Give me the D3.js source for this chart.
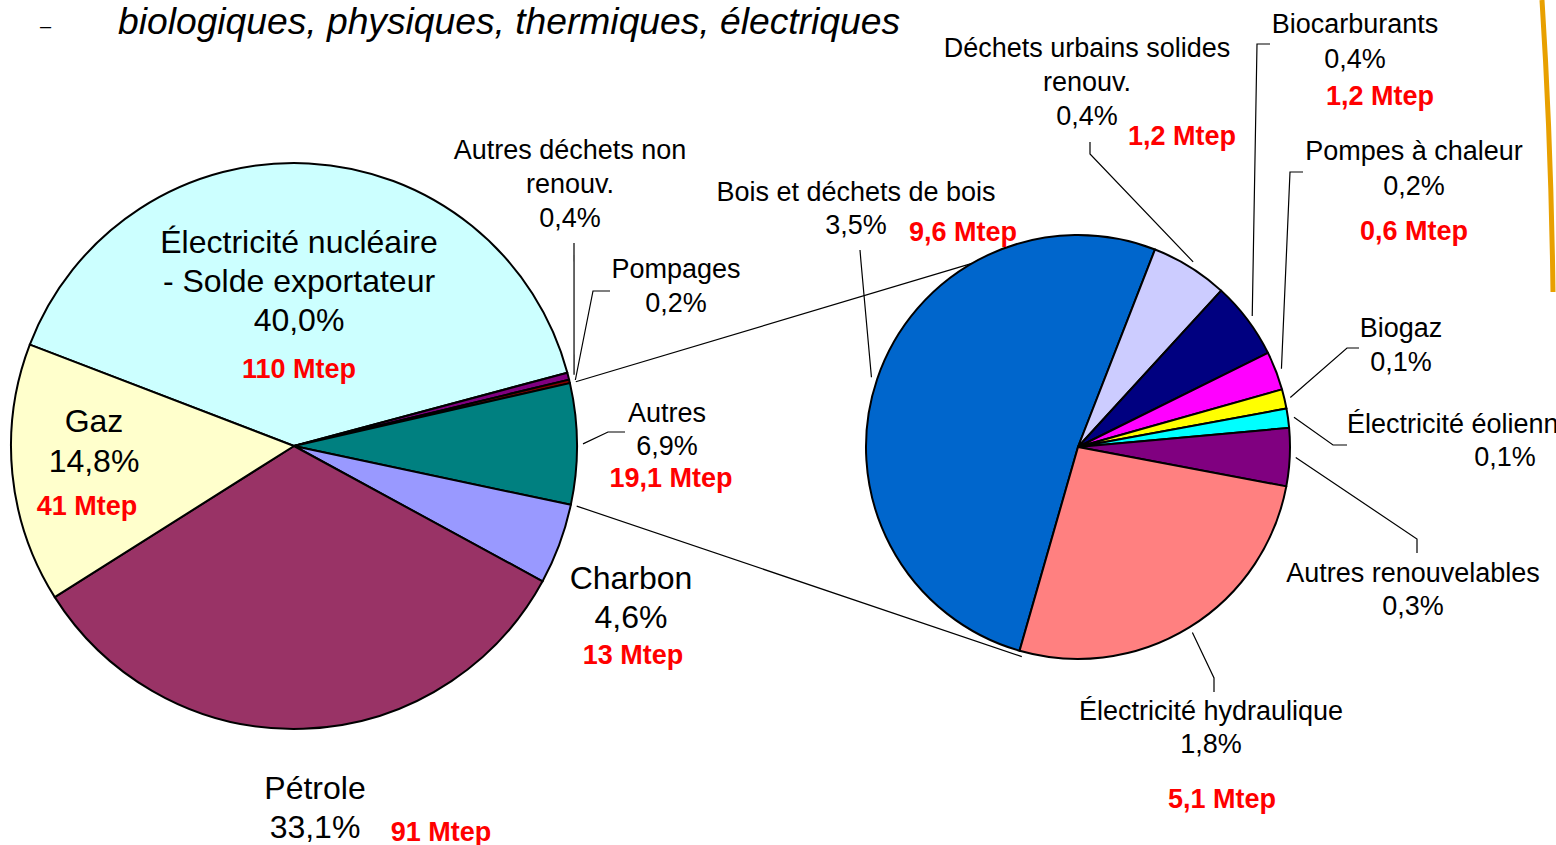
<!DOCTYPE html>
<html>
<head>
<meta charset="utf-8">
<script src="https://cdn.jsdelivr.net/npm/d3@7"></script>
<style>
  body { margin: 0; background: #fff; }
  svg { display: block; }
  text { font-family: Arial, "Liberation Sans", sans-serif; }
</style>
</head>
<body>
<svg id="chart" width="1556" height="845"></svg>
<script>
// ---- data ----
const leftNames = ["Électricité nucléaire\n- Solde exportateur", "Autres déchets non\nrenouv.", "Pompages", "Autres", "Charbon", "Pétrole", "Gaz"];
const leftValues = [40.0, 0.4, 0.2, 6.9, 4.6, 33.1, 14.8];
const leftMtep = ["110 Mtep", null, null, "19,1 Mtep", "13 Mtep", "91 Mtep", "41 Mtep"];
const leftColors = ["#CCFFFF", "#800080", "#800000", "#008080", "#9999FF", "#993366", "#FFFFCC"];

const rightNames = ["Bois et déchets de bois", "Déchets urbains solides\nrenouv.", "Biocarburants", "Pompes à chaleur", "Biogaz", "Électricité éolienne", "Autres renouvelables", "Électricité hydraulique"];
const rightValues = [3.5, 0.4, 0.4, 0.2, 0.1, 0.1, 0.3, 1.8];
const rightMtep = ["9,6 Mtep", "1,2 Mtep", "1,2 Mtep", "0,6 Mtep", null, null, null, "5,1 Mtep"];
const rightColors = ["#0066CC", "#CCCCFF", "#000080", "#FF00FF", "#FFFF00", "#00FFFF", "#800080", "#FF8080"];

const titleText = "biologiques, physiques, thermiques, électriques";

// ---- layout ----
const deg = Math.PI / 180;
const leftPie = {cx: 294, cy: 446, r: 283, start: -69};
const rightPie = {cx: 1078, cy: 447, r: 212, start: -164};

// label placement: x, baselines of name lines + pct line, red value position, leader elbow points
const leftLayout = [
  {x: 299, lines: [253, 292], pct: 331, big: true, mtep: [299, 378]},
  {x: 570, lines: [159, 193], pct: 227, mtep: null, leader: [[574, 243]]},
  {x: 676, lines: [278], pct: 312, mtep: null, leader: [[610, 291], [593, 291]]},
  {x: 667, lines: [422], pct: 455, mtep: [671, 487], leader: [[625, 432], [608, 432]]},
  {x: 631, lines: [589], pct: 628, big: true, mtep: [633, 664]},
  {x: 315, lines: [799], pct: 838, big: true, mtep: [441, 841]},
  {x: 94, lines: [432], pct: 472, big: true, mtep: [87, 515]}
];
const rightLayout = [
  {x: 856, lines: [201], pct: 234, mtep: [963, 241], leader: [[860, 250], [861, 262]]},
  {x: 1087, lines: [57, 91], pct: 125, mtep: [1182, 145], leader: [[1090, 142], [1090, 154]]},
  {x: 1355, lines: [33], pct: 68, mtep: [1380, 105], leader: [[1270, 44], [1257, 44]]},
  {x: 1414, lines: [160], pct: 195, mtep: [1414, 240], leader: [[1303, 172], [1290, 172]]},
  {x: 1401, lines: [337], pct: 371, mtep: null, leader: [[1359, 348], [1347, 348]]},
  {x: 1347, anchor: "start", pctX: 1505, lines: [433], pct: 466, mtep: null, leader: [[1347, 445], [1333, 445]]},
  {x: 1413, lines: [582], pct: 615, mtep: null, leader: [[1417, 553], [1417, 539]]},
  {x: 1211, lines: [720], pct: 753, mtep: [1222, 808], leader: [[1214, 692], [1214, 678]]}
];
// where the two link lines land on the second pie (degrees, clockwise from top)
const linkTargets = [{a: -30, dr: 0}, {a: -165, dr: 5}];

const smallSize = 27, bigSize = 32, mtepSize = 27;
const fmtPct = v => d3.format(".1f")(v).replace(".", ",") + "%";

const svg = d3.select("#chart");

// slide decoration on the right edge
svg.append("path")
  .attr("d", "M1542,0 Q1551,140 1553,292")
  .attr("fill", "none")
  .attr("stroke", "#E8A000")
  .attr("stroke-width", 5);

// title line
svg.append("text").attr("x", 40).attr("y", 33).attr("font-size", 20).text("–");
svg.append("text")
  .attr("x", 118).attr("y", 34)
  .attr("font-size", 36).attr("font-style", "italic")
  .attr("textLength", 782).attr("lengthAdjust", "spacingAndGlyphs")
  .text(titleText);

function makeArcs(values, geo) {
  return d3.pie().sort(null).value(d => d)
    .startAngle(geo.start * deg).endAngle((geo.start + 360) * deg)(values);
}
function polar(geo, a, r) {
  return [geo.cx + r * Math.sin(a), geo.cy - r * Math.cos(a)];
}

const leftArcs = makeArcs(leftValues, leftPie);
const rightArcs = makeArcs(rightValues, rightPie);

// link lines between "Autres" slice and the second pie
const autres = leftArcs[3];
const linkG = svg.append("g").attr("stroke", "#000").attr("stroke-width", 1.2).attr("fill", "none");
[autres.startAngle, autres.endAngle].forEach((a, i) => {
  const p0 = polar(leftPie, a, leftPie.r + 6);
  const t = linkTargets[i];
  const p1 = polar(rightPie, t.a * deg, rightPie.r + t.dr);
  linkG.append("line").attr("x1", p0[0]).attr("y1", p0[1]).attr("x2", p1[0]).attr("y2", p1[1]);
});

// leader lines
function drawLeaders(arcs, layout, geo) {
  const g = svg.append("g").attr("stroke", "#000").attr("stroke-width", 1.2).attr("fill", "none");
  arcs.forEach((d, i) => {
    const L = layout[i];
    if (!L.leader) return;
    const mid = (d.startAngle + d.endAngle) / 2;
    const pts = L.leader.concat([polar(geo, mid, geo.r + 6)]);
    g.append("path").attr("d", d3.line()(pts));
  });
}
drawLeaders(leftArcs, leftLayout, leftPie);
drawLeaders(rightArcs, rightLayout, rightPie);

// pies
function drawPie(arcs, geo, colors) {
  const arc = d3.arc().innerRadius(0).outerRadius(geo.r);
  svg.append("g")
    .attr("transform", `translate(${geo.cx},${geo.cy})`)
    .selectAll("path")
    .data(arcs)
    .join("path")
    .attr("d", arc)
    .attr("fill", (d, i) => colors[i])
    .attr("stroke", "#000")
    .attr("stroke-width", 2)
    .attr("stroke-linejoin", "round");
}
drawPie(leftArcs, leftPie, leftColors);
drawPie(rightArcs, rightPie, rightColors);

// labels
function drawLabels(names, values, mtep, layout) {
  const g = svg.append("g");
  names.forEach((name, i) => {
    const L = layout[i];
    const size = L.big ? bigSize : smallSize;
    const anchor = L.anchor || "middle";
    name.split("\n").forEach((line, j) => {
      g.append("text")
        .attr("x", L.x).attr("y", L.lines[j])
        .attr("text-anchor", anchor)
        .attr("font-size", size)
        .attr("fill", "#000")
        .text(line);
    });
    g.append("text")
      .attr("x", L.pctX || L.x).attr("y", L.pct)
      .attr("text-anchor", "middle")
      .attr("font-size", size)
      .attr("fill", "#000")
      .text(fmtPct(values[i]));
    if (mtep[i] && L.mtep) {
      g.append("text")
        .attr("x", L.mtep[0]).attr("y", L.mtep[1])
        .attr("text-anchor", "middle")
        .attr("font-size", mtepSize)
        .attr("font-weight", "bold")
        .attr("fill", "#FF0000")
        .text(mtep[i]);
    }
  });
}
drawLabels(leftNames, leftValues, leftMtep, leftLayout);
drawLabels(rightNames, rightValues, rightMtep, rightLayout);
</script>
</body>
</html>
